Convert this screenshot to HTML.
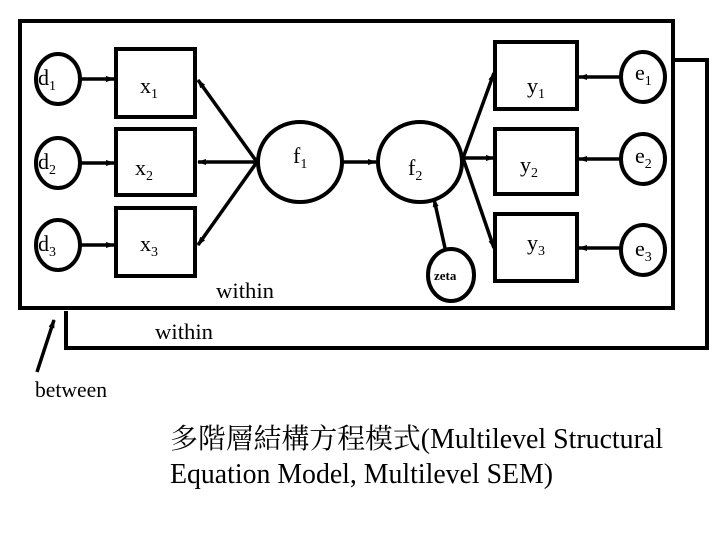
<!DOCTYPE html>
<html><head><meta charset="utf-8"><style>
html,body{margin:0;padding:0;background:#fff;}
svg{display:block;}
text{font-family:"Liberation Serif","Noto Serif CJK SC",serif;fill:#000;}
</style></head><body>
<svg width="720" height="540" viewBox="0 0 720 540" xmlns="http://www.w3.org/2000/svg">
<defs>
<marker id="a" markerWidth="9" markerHeight="8" refX="8" refY="4" orient="auto" markerUnits="userSpaceOnUse">
<path d="M0,1 L9,4 L0,7 Z" fill="#000"/></marker>
</defs>
<g stroke="#000" stroke-width="4" fill="none">
<rect x="20" y="21" width="653" height="287"/>
<polyline points="673,60 707,60 707,348 66,348 66,311"/>
<ellipse cx="58" cy="79" rx="22" ry="25"/>
<ellipse cx="58" cy="163" rx="22" ry="25"/>
<ellipse cx="58" cy="245" rx="22" ry="25"/>
<rect x="116" y="49" width="79" height="68"/>
<rect x="116" y="129" width="79" height="66"/>
<rect x="116" y="208" width="79" height="68"/>
<ellipse cx="300" cy="162" rx="42" ry="40"/>
<ellipse cx="420" cy="162" rx="42" ry="40"/>
<rect x="495" y="42" width="82" height="67"/>
<rect x="495" y="129" width="82" height="65"/>
<rect x="495" y="214" width="82" height="67"/>
<ellipse cx="643" cy="77" rx="22" ry="25"/>
<ellipse cx="643" cy="159" rx="22" ry="25"/>
<ellipse cx="643" cy="250" rx="22" ry="25"/>
<ellipse cx="451" cy="275" rx="23" ry="26"/>
<g marker-end="url(#a)" stroke-width="3.5">
<line x1="80" y1="79" x2="114" y2="79"/>
<line x1="80" y1="163" x2="114" y2="163"/>
<line x1="80" y1="245" x2="114" y2="245"/>
<line x1="257" y1="162" x2="198" y2="80"/>
<line x1="257" y1="162" x2="198" y2="162"/>
<line x1="257" y1="162" x2="198" y2="245"/>
<line x1="343" y1="162" x2="376" y2="162"/>
<line x1="463" y1="158" x2="494" y2="73"/>
<line x1="463" y1="158" x2="494" y2="158"/>
<line x1="463" y1="158" x2="494" y2="248"/>
<line x1="621" y1="77" x2="579" y2="77"/>
<line x1="621" y1="159" x2="579" y2="159"/>
<line x1="621" y1="248" x2="579" y2="248"/>
<line x1="445" y1="248" x2="434" y2="199"/>
<line x1="37" y1="372" x2="54" y2="320"/>
</g>
</g>
<g font-size="22">
<text x="38" y="85">d<tspan font-size="14" dy="5">1</tspan></text>
<text x="38" y="169">d<tspan font-size="14" dy="5">2</tspan></text>
<text x="38" y="251">d<tspan font-size="14" dy="5">3</tspan></text>
<text x="140" y="93">x<tspan font-size="14" dy="5">1</tspan></text>
<text x="135" y="175">x<tspan font-size="14" dy="5">2</tspan></text>
<text x="140" y="251">x<tspan font-size="14" dy="5">3</tspan></text>
<text x="293" y="163">f<tspan font-size="14" dy="5">1</tspan></text>
<text x="408" y="175">f<tspan font-size="14" dy="5">2</tspan></text>
<text x="527" y="93">y<tspan font-size="14" dy="5">1</tspan></text>
<text x="520" y="172">y<tspan font-size="14" dy="5">2</tspan></text>
<text x="527" y="250">y<tspan font-size="14" dy="5">3</tspan></text>
<text x="635" y="80">e<tspan font-size="14" dy="5">1</tspan></text>
<text x="635" y="163">e<tspan font-size="14" dy="5">2</tspan></text>
<text x="635" y="256">e<tspan font-size="14" dy="5">3</tspan></text>
<text x="216" y="298" textLength="58" lengthAdjust="spacingAndGlyphs">within</text>
<text x="155" y="339" textLength="58" lengthAdjust="spacingAndGlyphs">within</text>
<text x="35" y="397" textLength="72" lengthAdjust="spacingAndGlyphs">between</text>
</g>
<text x="434" y="280" font-size="13" font-weight="bold">zeta</text>
<text x="170" y="448" font-size="28" textLength="493" lengthAdjust="spacingAndGlyphs">多階層結構方程模式(Multilevel Structural</text>
<text x="170" y="483" font-size="28" textLength="383" lengthAdjust="spacingAndGlyphs">Equation Model, Multilevel SEM)</text>
</svg>
</body></html>
